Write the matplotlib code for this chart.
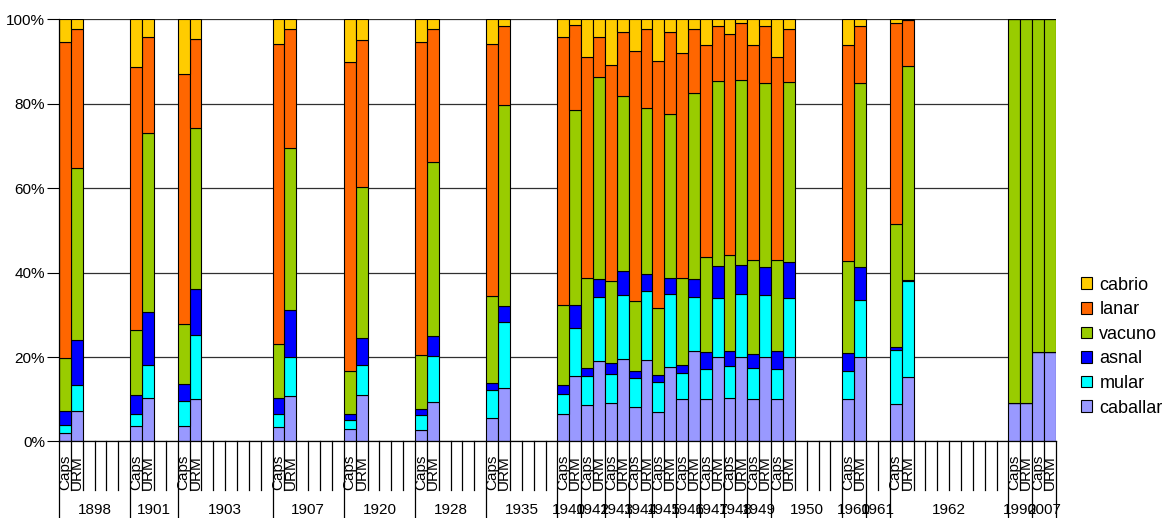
import numpy as np
import matplotlib.pyplot as plt
import matplotlib.transforms as mtransforms

plt.rcParams['font.family'] = ['Liberation Sans', 'DejaVu Sans']

# grupos del eje de categorias y cantidad de casillas de cada uno
years = ['1898', '1901', '1903', '1907', '1920', '1928', '1935',
         '1940', '1942', '1943', '1944', '1945', '1946', '1947', '1948', '1949',
         '1950', '1960', '1961', '1962', '1990', '2007']
slots = [6, 4, 8, 6, 6, 6, 6,
         2, 2, 2, 2, 2, 2, 2, 2, 2,
         6, 2, 2, 10, 2, 2]
sources = ['Caps', 'URM']
# 1961 no tiene datos
data_years = [y for y in years if y != '1961']

# porcentajes por especie, Caps y URM alternados para cada año de data_years
caballar = [2.1, 7.3, 3.7, 10.4, 3.7, 10.1, 3.5, 10.7, 3.0, 11.0, 2.8, 9.3, 5.5, 12.6,
            6.4, 15.5, 8.6, 19.1, 9.0, 19.5, 8.1, 19.3, 7.1, 17.7, 10.0, 21.5, 10.0, 19.9,
            10.4, 20.1, 10.1, 20.1, 10.1, 19.9, 10.1, 20.1, 8.8, 15.3, 9.1, 9.1, 21.3, 21.3]
mular = [1.8, 6.0, 2.8, 7.7, 5.8, 15.2, 3.0, 9.3, 2.0, 7.1, 3.5, 11.0, 6.6, 15.7,
         4.8, 11.5, 6.8, 15.2, 6.9, 15.1, 6.9, 16.4, 7.1, 17.2, 6.2, 12.8, 7.2, 14.0,
         7.5, 14.8, 7.4, 14.5, 7.1, 14.2, 6.6, 13.3, 12.9, 22.6, 0, 0, 0, 0]
asnal = [3.4, 10.7, 4.5, 12.5, 4.1, 10.9, 3.9, 11.1, 1.5, 6.3, 1.4, 4.8, 1.7, 3.7,
         2.2, 5.3, 1.9, 4.3, 2.6, 5.8, 1.7, 3.9, 1.6, 3.9, 1.9, 4.3, 4.1, 7.7,
         3.6, 6.9, 3.2, 6.7, 4.2, 8.3, 4.2, 8.0, 0.6, 0.4, 0, 0, 0, 0]
vacuno = [12.4, 40.8, 15.4, 42.4, 14.3, 38.0, 12.7, 38.4, 10.2, 35.8, 12.9, 41.0, 20.6, 47.7,
          18.9, 46.2, 21.4, 47.7, 19.4, 41.5, 16.6, 39.3, 15.8, 38.7, 20.7, 44.0, 22.3, 43.8,
          22.7, 43.8, 22.2, 43.5, 21.6, 42.7, 21.9, 43.4, 29.2, 50.7, 90.9, 90.9, 78.7, 78.7]
lanar = [74.9, 32.9, 62.2, 22.7, 59.2, 21.1, 71.1, 28.2, 73.1, 34.9, 74.0, 31.6, 59.8, 18.6,
         63.4, 20.2, 52.3, 9.4, 51.2, 15.0, 59.3, 18.8, 58.6, 19.4, 53.2, 15.1, 50.2, 13.0,
         52.3, 13.5, 50.9, 13.6, 48.0, 12.5, 51.0, 13.6, 47.7, 10.8, 0, 0, 0, 0]
cabrio = [5.4, 2.3, 11.4, 4.3, 12.9, 4.7, 5.8, 2.3, 10.2, 4.9, 5.4, 2.3, 5.8, 1.7,
          4.3, 1.3, 9.0, 4.3, 10.9, 3.1, 7.4, 2.3, 9.8, 3.1, 8.0, 2.3, 6.2, 1.6,
          3.5, 0.9, 6.2, 1.6, 9.0, 2.4, 6.2, 1.6, 0.8, 0.2, 0, 0, 0, 0]

series = [('caballar', caballar, '#9999FF'),
          ('mular', mular, '#00FFFF'),
          ('asnal', asnal, '#0000FF'),
          ('vacuno', vacuno, '#99CC00'),
          ('lanar', lanar, '#FF6600'),
          ('cabrio', cabrio, '#FFCC00')]

starts = np.concatenate([[0], np.cumsum(slots)[:-1]])
n_slots = int(np.sum(slots))

x = []
for y in data_years:
    s = starts[years.index(y)]
    x += [s + 0.5, s + 1.5]
x = np.array(x)

fig = plt.figure(figsize=(11.65, 5.18), dpi=100)
ax = fig.add_axes([0.0506, 0.1477, 0.8558, 0.8150])

bottom = np.zeros(len(x))
handles = []
for name, vals, color in series:
    vals = np.array(vals)
    h = ax.bar(x, vals, width=1.0, bottom=bottom, color=color,
               edgecolor='black', linewidth=0.8, label=name)
    handles.append(h)
    bottom += vals

ax.set_xlim(0, n_slots)
ax.set_ylim(0, 100)
ax.set_yticks(range(0, 101, 20))
ax.set_yticklabels([f'{v}%' for v in range(0, 101, 20)], fontsize=11)
ax.tick_params(axis='y', length=9, width=0.8, pad=1)
ax.set_xticks([])
ax.yaxis.grid(True, color='#303030', linewidth=0.9)
ax.set_axisbelow(True)
for side in ['top', 'right']:
    ax.spines[side].set_visible(False)
ax.spines['left'].set_linewidth(0.9)
ax.spines['bottom'].set_linewidth(0.9)

# eje de categorias de dos niveles
trans = mtransforms.blended_transform_factory(ax.transData, ax.transAxes)
fig_bottom = -0.1477 / 0.8150
group_edges = set(np.concatenate([starts, [n_slots]]).tolist())
for k in range(n_slots + 1):
    y_end = fig_bottom if k in group_edges else -0.116
    ax.plot([k, k], [0, y_end], color='black', linewidth=0.9,
            transform=trans, clip_on=False)

for y, s, n in zip(years, starts, slots):
    if y in data_years:
        for j, src in enumerate(sources):
            ax.text(s + j + 0.5, -0.115, src, rotation=90, ha='center', va='bottom',
                    fontsize=11, transform=trans)
    ax.text(s + n / 2, -0.162, y, ha='center', va='center', fontsize=11,
            transform=trans)

fig.legend(handles[::-1], [h.get_label() for h in handles[::-1]],
           loc='center left', bbox_to_anchor=(0.922, 0.331), frameon=False,
           fontsize=13, handlelength=0.6, handleheight=0.6, handletextpad=0.4,
           labelspacing=0.42, borderaxespad=0)

fig.savefig('out.png', dpi=100)
